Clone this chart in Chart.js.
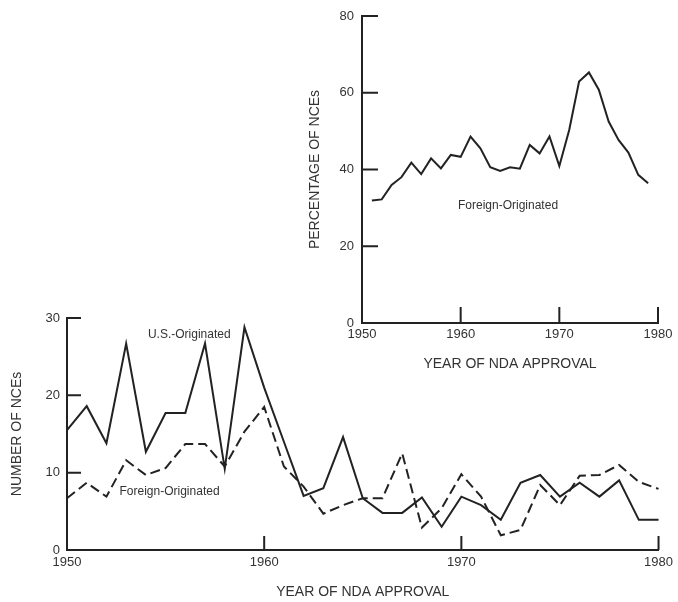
<!DOCTYPE html>
<html>
<head>
<meta charset="utf-8">
<script src="https://cdn.jsdelivr.net/npm/chart.js@4.4.1/dist/chart.umd.min.js"></script>
<style>
    html, body { margin: 0; padding: 0; background: #fff; }
    #wrap { position: relative; width: 678px; height: 602px; }
    #graficoNumero { position: absolute; left: 0; top: 0; }
    #graficoPercentual { position: absolute; left: 300px; top: 0; }
</style>
</head>
<body>
<div id="wrap">
    <canvas id="graficoNumero" width="678" height="602"></canvas>
    <canvas id="graficoPercentual" width="378" height="380"></canvas>
</div>
<script>
// dados
const years = [1950, 1951, 1952, 1953, 1954, 1955, 1956, 1957, 1958, 1959,
               1960, 1961, 1962, 1963, 1964, 1965, 1966, 1967, 1968, 1969,
               1970, 1971, 1972, 1973, 1974, 1975, 1976, 1977, 1978, 1979, 1980];
const usOriginated = [15.5, 18.6, 13.8, 26.7, 12.7, 17.7, 17.7, 26.7, 10.5, 28.8,
                      21, 14, 7, 8, 14.6, 6.7, 4.8, 4.8, 6.8, 3,
                      6.9, 5.8, 3.9, 8.7, 9.7, 6.9, 8.7, 6.9, 9, 3.9, 3.9];
const foreignOriginated = [6.7, 8.7, 6.9, 11.6, 9.7, 10.6, 13.7, 13.7, 10.8, 15.3,
                           18.5, 10.8, 8.2, 4.7, 5.8, 6.7, 6.7, 12.5, 2.9, 5.4,
                           9.8, 6.9, 1.9, 2.6, 8.4, 5.8, 9.6, 9.7, 11, 8.8, 7.9];

const pctYears = [1951, 1952, 1953, 1954, 1955, 1956, 1957, 1958, 1959, 1960,
                  1961, 1962, 1963, 1964, 1965, 1966, 1967, 1968, 1969, 1970,
                  1971, 1972, 1973, 1974, 1975, 1976, 1977, 1978, 1979];
const foreignPct = [31.9, 32.2, 36, 38, 41.8, 38.8, 42.9, 40.3, 43.8, 43.3,
                    48.6, 45.5, 40.6, 39.6, 40.6, 40.2, 46.4, 44.2, 48.6, 40.9,
                    50.3, 62.9, 65.3, 60.8, 52.5, 47.7, 44.4, 38.6, 36.4];

const yearTickMarks = [1960, 1970, 1980];
const numberTickMarks = [10, 20, 30];
const pctTickMarks = [20, 40, 60, 80];

const INK = '#222';
const TEXT = '#333';

Chart.defaults.font.family = "'Liberation Sans', Arial, sans-serif";
Chart.defaults.color = TEXT;

const toPoints = (xs, ys) => xs.map((x, i) => ({ x: x, y: ys[i] }));

// marcas de escala voltadas para dentro do gráfico
const inwardTicks = (xVals, yVals, len) => ({
    id: 'inwardTicks',
    afterDraw(chart) {
        const { ctx, chartArea, scales } = chart;
        ctx.save();
        ctx.strokeStyle = INK;
        ctx.lineWidth = 2;
        ctx.beginPath();
        xVals.forEach(v => {
            const px = scales.x.getPixelForValue(v);
            ctx.moveTo(px, chartArea.bottom);
            ctx.lineTo(px, chartArea.bottom - len);
        });
        yVals.forEach(v => {
            const py = scales.y.getPixelForValue(v);
            ctx.moveTo(chartArea.left, py);
            ctx.lineTo(chartArea.left + len, py);
        });
        ctx.stroke();
        ctx.restore();
    }
});

// rótulos das séries escritos no próprio gráfico
const seriesLabels = (labels) => ({
    id: 'seriesLabels',
    afterDraw(chart) {
        const { ctx, scales } = chart;
        ctx.save();
        ctx.fillStyle = TEXT;
        ctx.font = "12px 'Liberation Sans', Arial, sans-serif";
        ctx.textAlign = 'center';
        ctx.textBaseline = 'middle';
        labels.forEach(l => {
            ctx.fillText(l.text, scales.x.getPixelForValue(l.x), scales.y.getPixelForValue(l.y));
        });
        ctx.restore();
    }
});

const axis = (opts) => ({
    type: 'linear',
    min: opts.min,
    max: opts.max,
    afterFit: opts.afterFit,
    grid: { display: false, drawTicks: false },
    border: { display: true, width: 2, color: INK },
    ticks: {
        stepSize: opts.step,
        padding: opts.padding,
        autoSkip: false,
        maxRotation: 0,
        font: { size: 13 },
        color: TEXT,
        callback: v => String(v)
    },
    title: {
        display: true,
        text: opts.title,
        font: { size: 14 },
        color: TEXT,
        padding: opts.titlePadding
    }
});

const lineSet = (data, dash) => ({
    data: data,
    borderColor: INK,
    borderWidth: 2,
    borderDash: dash,
    pointRadius: 0,
    tension: 0,
    fill: false,
    clip: false
});

new Chart(document.getElementById('graficoNumero').getContext('2d'), {
    type: 'line',
    data: {
        datasets: [
            lineSet(toPoints(years, usOriginated), []),
            lineSet(toPoints(years, foreignOriginated), [10, 5])
        ]
    },
    options: {
        responsive: false,
        animation: false,
        layout: { padding: { top: 318, right: 19, bottom: 0, left: 0 } },
        plugins: { legend: { display: false }, tooltip: { enabled: false } },
        scales: {
            x: axis({ min: 1950, max: 1980, step: 10, padding: 5, title: 'YEAR OF NDA APPROVAL',
                      titlePadding: { top: 0, bottom: 1 }, afterFit: s => { s.height = 52; } }),
            y: axis({ min: 0, max: 30, step: 10, padding: 7, title: 'NUMBER OF NCEs',
                      titlePadding: { top: 9, bottom: 0 }, afterFit: s => { s.width = 67; } })
        }
    },
    plugins: [
        inwardTicks(yearTickMarks, numberTickMarks, 14),
        seriesLabels([
            { text: 'U.S.-Originated', x: 1956.2, y: 27.9 },
            { text: 'Foreign-Originated', x: 1955.2, y: 7.6 }
        ])
    ]
});

new Chart(document.getElementById('graficoPercentual').getContext('2d'), {
    type: 'line',
    data: {
        datasets: [lineSet(toPoints(pctYears, foreignPct), [])]
    },
    options: {
        responsive: false,
        animation: false,
        layout: { padding: { top: 16, right: 20, bottom: 0, left: 0 } },
        plugins: { legend: { display: false }, tooltip: { enabled: false } },
        scales: {
            x: axis({ min: 1950, max: 1980, step: 10, padding: 4, title: 'YEAR OF NDA APPROVAL',
                      titlePadding: { top: 0, bottom: 7 }, afterFit: s => { s.height = 57; } }),
            y: axis({ min: 0, max: 80, step: 20, padding: 8, title: 'PERCENTAGE OF NCEs',
                      titlePadding: { top: 7, bottom: 0 }, afterFit: s => { s.width = 62; } })
        }
    },
    plugins: [
        inwardTicks(yearTickMarks, pctTickMarks, 16),
        seriesLabels([
            { text: 'Foreign-Originated', x: 1964.8, y: 30.7 }
        ])
    ]
});
</script>
</body>
</html>
